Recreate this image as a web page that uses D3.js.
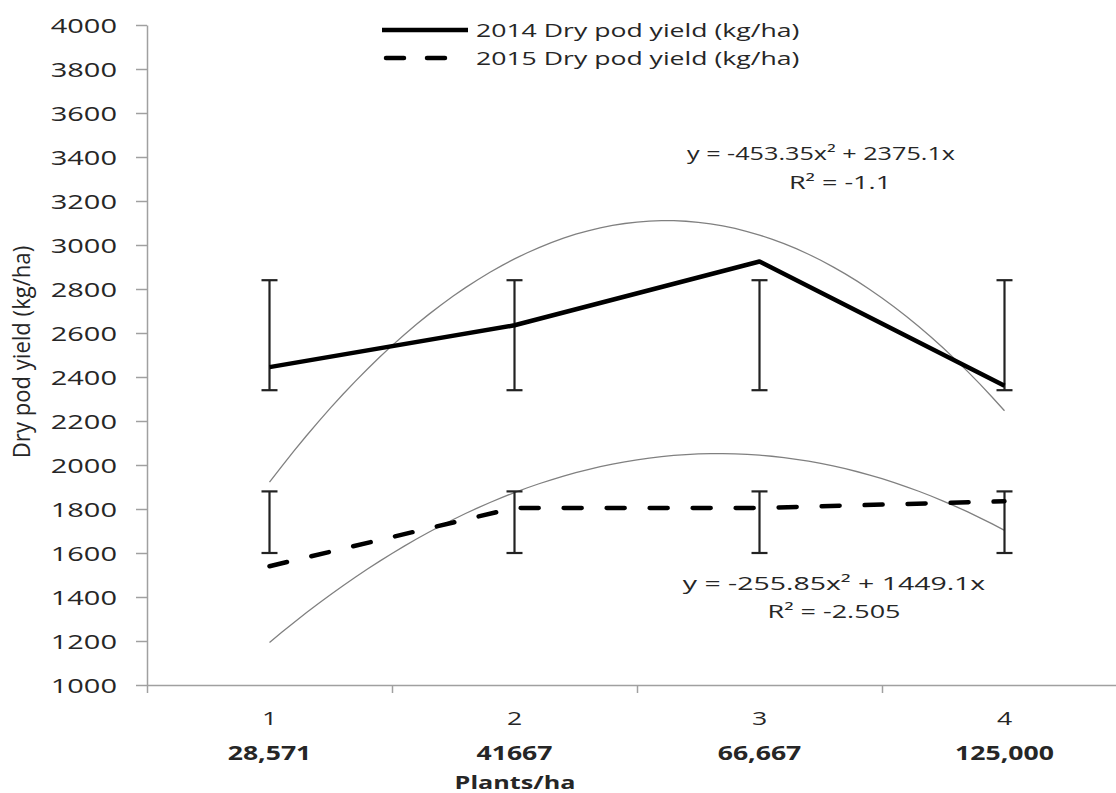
<!DOCTYPE html>
<html>
<head>
<meta charset="utf-8">
<script src="https://cdn.jsdelivr.net/npm/d3@7"></script>
<style>
body { margin: 0; background: #fff; }
text { font-family: "Open Sans", sans-serif; fill: #262626; }
</style>
</head>
<body>
<div id="chart-area"></div>
<script>
/*
*    dry pod yield chart
*/

var categories = [1, 2, 3, 4];
var densityLabels = ["28,571", "41667", "66,667", "125,000"];
var yield2014 = [2445, 2635, 2925, 2360];
var yield2015 = [1540, 1805, 1805, 1835];
var err2014Low = [2340, 2340, 2340, 2340];
var err2014High = [2840, 2840, 2840, 2840];
var err2015Low = [1600, 1600, 1600, 1600];
var err2015High = [1880, 1880, 1880, 1880];
var trend2014 = [-453.35, 2375.1];
var trend2015 = [-255.85, 1449.1];
var yTicks = [1000, 1200, 1400, 1600, 1800, 2000, 2200, 2400, 2600, 2800, 3000, 3200, 3400, 3600, 3800, 4000];
var legendLabels = ["2014 Dry pod yield (kg/ha)", "2015 Dry pod yield (kg/ha)"];

var SX = 1.4; // the picture is stretched sideways

var svg = d3.select("#chart-area").append("svg")
    .attr("width", 1116)
    .attr("height", 793);

var x = d3.scaleLinear().domain([0.5, 4.5]).range([147, 1127]);
var y = d3.scaleLinear().domain([1000, 4000]).range([685, 25]);

// y axis
var yAxis = svg.append("g")
    .attr("transform", "translate(147,0)")
    .call(d3.axisLeft(y).tickValues(yTicks).tickFormat(d3.format("d")).tickSize(11).tickSizeOuter(0));
yAxis.selectAll("path, line").attr("stroke", "#a0a0a0").attr("stroke-width", 1.5);
yAxis.selectAll("text")
    .attr("x", 0)
    .attr("dy", "0.36em")
    .attr("transform", "translate(-30,0) scale(1.45,1)")
    .attr("font-size", 20)
    .attr("font-family", "Open Sans")
    .attr("fill", "#262626");

// x axis
var xAxis = svg.append("g")
    .attr("transform", "translate(0,685)")
    .call(d3.axisBottom(x).tickValues([0.5, 1.5, 2.5, 3.5, 4.5]).tickFormat("").tickSize(8).tickSizeOuter(0));
xAxis.selectAll("path, line").attr("stroke", "#a0a0a0").attr("stroke-width", 1.5);

svg.selectAll(".cat").data(categories).enter().append("text")
    .attr("class", "cat")
    .attr("text-anchor", "middle")
    .attr("font-size", 19)
    .attr("transform", function(d) { return "translate(" + x(d) + ",725) scale(" + SX + ",1)"; })
    .text(function(d) { return d; });

svg.selectAll(".dens").data(densityLabels).enter().append("text")
    .attr("class", "dens")
    .attr("text-anchor", "middle")
    .attr("font-size", 19)
    .attr("font-weight", "bold")
    .attr("transform", function(d, i) { return "translate(" + x(categories[i]) + ",760) scale(" + SX + ",1)"; })
    .text(function(d) { return d; });

svg.append("text")
    .attr("text-anchor", "middle")
    .attr("font-size", 18)
    .attr("font-weight", "bold")
    .attr("transform", "translate(515,789) scale(" + SX + ",1)")
    .text("Plants/ha");

svg.append("text")
    .attr("text-anchor", "middle")
    .attr("font-size", 17)
    .attr("transform", "translate(30,352) rotate(-90) scale(1.3," + SX + ")")
    .text("Dry pod yield (kg/ha)");

// trend lines
var curve = d3.line()
    .x(function(d) { return x(d[0]); })
    .y(function(d) { return y(d[1]); });

[trend2014, trend2015].forEach(function(c) {
    var pts = d3.range(1, 4.0001, 0.05).map(function(t) { return [t, c[0] * t * t + c[1] * t]; });
    svg.append("path")
        .attr("d", curve(pts))
        .attr("fill", "none")
        .attr("stroke", "#808080")
        .attr("stroke-width", 1.3);
});

// error bars
function errorBars(low, high) {
    var g = svg.append("g").attr("stroke", "#222").attr("stroke-width", 2.2);
    categories.forEach(function(c, i) {
        g.append("line").attr("x1", x(c)).attr("x2", x(c)).attr("y1", y(low[i])).attr("y2", y(high[i]));
        g.append("line").attr("x1", x(c) - 8).attr("x2", x(c) + 8).attr("y1", y(low[i])).attr("y2", y(low[i]));
        g.append("line").attr("x1", x(c) - 8).attr("x2", x(c) + 8).attr("y1", y(high[i])).attr("y2", y(high[i]));
    });
}
errorBars(err2014Low, err2014High);
errorBars(err2015Low, err2015High);

// series
var line = d3.line()
    .x(function(d, i) { return x(categories[i]); })
    .y(function(d) { return y(d); });

svg.append("path")
    .attr("d", line(yield2014))
    .attr("fill", "none")
    .attr("stroke", "#000")
    .attr("stroke-width", 4.5)
    .attr("stroke-linejoin", "round");

svg.append("path")
    .attr("d", line(yield2015))
    .attr("fill", "none")
    .attr("stroke", "#000")
    .attr("stroke-width", 4.5)
    .attr("stroke-linecap", "round")
    .attr("stroke-dasharray", "18,25");

// equations
var notes = [
    {t: "y = -453.35x\u00b2 + 2375.1x", x: 821, y: 160, s: 18, sx: SX},
    {t: "R\u00b2 = -1.1", x: 840, y: 189, s: 18, sx: 1.5},
    {t: "y = -255.85x\u00b2 + 1449.1x", x: 834, y: 590, s: 18, sx: 1.58},
    {t: "R\u00b2 = -2.505", x: 834, y: 618, s: 18, sx: 1.5}
];
svg.selectAll(".note").data(notes).enter().append("text")
    .attr("class", "note")
    .attr("text-anchor", "middle")
    .attr("font-size", function(d) { return d.s; })
    .attr("transform", function(d) { return "translate(" + d.x + "," + d.y + ") scale(" + d.sx + ",1)"; })
    .text(function(d) { return d.t; });

// legend
var legend = svg.append("g");
legend.append("line")
    .attr("x1", 382).attr("x2", 468).attr("y1", 30).attr("y2", 30)
    .attr("stroke", "#000").attr("stroke-width", 4.5);
legend.append("line")
    .attr("x1", 386).attr("x2", 448).attr("y1", 58).attr("y2", 58)
    .attr("stroke", "#000").attr("stroke-width", 4.5)
    .attr("stroke-linecap", "round")
    .attr("stroke-dasharray", "18,23");
legend.selectAll("text").data(legendLabels).enter().append("text")
    .attr("font-size", 19)
    .attr("transform", function(d, i) { return "translate(476," + (37 + i * 28) + ") scale(" + SX + ",1)"; })
    .text(function(d) { return d; });
</script>
</body>
</html>
